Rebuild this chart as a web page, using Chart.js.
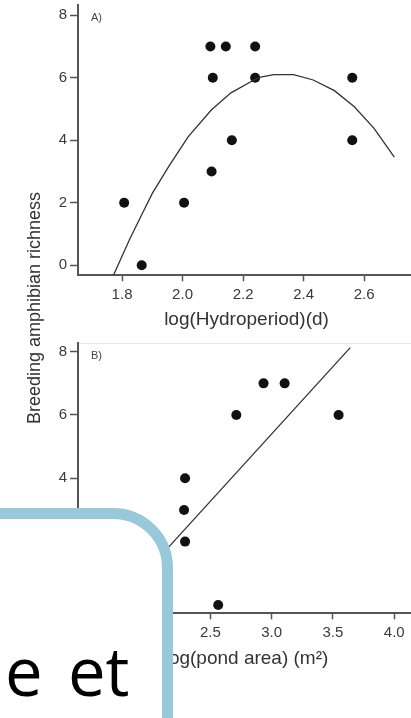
<!DOCTYPE html>
<html>
<head>
<meta charset="utf-8">
<script src="https://cdn.jsdelivr.net/npm/chart.js@4.4.0/dist/chart.umd.min.js"></script>
<style>
  html, body { margin: 0; padding: 0; background: #fff; width: 411px; height: 718px; overflow: hidden; }
  canvas { position: absolute; left: 0; }
  #panelA { top: 0; }
  #panelB { top: 336px; }
  #yTitle {
    position: absolute; left: -116px; top: 298px; width: 300px; height: 20px;
    line-height: 20px; text-align: center; transform: rotate(-90deg);
    font: 18px "Liberation Sans", Arial, sans-serif; color: #333;
  }
  #topLineB { position: absolute; left: 78px; top: 343px; width: 340px; height: 1px; background: #e6e6e6; }
  #box {
    position: absolute; left: -80px; top: 508px; width: 253px; height: 400px;
    box-sizing: border-box; border: 11px solid #98c9db; border-radius: 60px; background: #fff;
  }
  #boxText {
    position: absolute; left: -12px; top: 637px; white-space: nowrap;
    font: 67px "Open Sans", sans-serif; line-height: 67px; word-spacing: 8px; color: #000;
  }
</style>
</head>
<body>
<div id="topLineB"></div>
<canvas id="panelA" width="420" height="340"></canvas>
<canvas id="panelB" width="420" height="344"></canvas>
<div id="yTitle">Breeding amphibian richness</div>
<div id="box"></div>
<div id="boxText">le et</div>
<script>
// panel A: richness vs log(hydroperiod)
var hydroX = [1.807, 1.865, 2.005, 2.092, 2.143, 2.240, 2.100, 2.240, 2.096, 2.163, 2.561, 2.561];
var richA  = [2, 0, 2, 7, 7, 7, 6, 6, 3, 4, 6, 4];
// fitted curve
var curveX = [1.772, 1.824, 1.867, 1.900, 1.954, 2.019, 2.095, 2.160, 2.236, 2.258, 2.302, 2.367, 2.432, 2.502, 2.567, 2.633, 2.700];
var curveY = [-0.31, 0.81, 1.66, 2.30, 3.16, 4.12, 4.97, 5.52, 5.93, 6.02, 6.10, 6.10, 5.93, 5.59, 5.08, 4.38, 3.46];
var hydroTicks = [1.8, 2.0, 2.2, 2.4, 2.6];

// panel B: richness vs log(pond area)
var areaX = [2.294, 2.286, 2.294, 2.564, 2.712, 2.934, 3.106, 3.546];
var richB = [4, 3, 2, 0, 6, 7, 7, 6];
var fitBX = [1.67, 3.641];
var fitBY = [-0.26, 8.13];
var areaTicks = [1.5, 2.0, 2.5, 3.0, 3.5, 4.0];

var richTicks = [0, 2, 4, 6, 8];

var tickFont = { family: "'Liberation Sans', Arial, sans-serif", size: 15 };
var titleFont = { family: "'Liberation Sans', Arial, sans-serif", size: 19 };
var axisColor = '#555';
var textColor = '#3a3a3a';

function pts(xs, ys) {
  return xs.map(function(x, i) { return { x: x, y: ys[i] }; });
}

var panelTag = {
  id: 'panelTag',
  afterDraw: function(chart) {
    var ctx = chart.ctx, area = chart.chartArea;
    ctx.save();
    ctx.font = "11px 'Liberation Sans', Arial, sans-serif";
    ctx.fillStyle = '#444';
    ctx.textBaseline = 'middle';
    ctx.fillText(chart.options.plugins.panelTag.text, area.left + 13, area.top + 13);
    ctx.restore();
  }
};

function makeChart(id, o) {
  return new Chart(document.getElementById(id), {
    type: 'scatter',
    data: {
      datasets: [{
        data: pts(o.lineX, o.lineY),
        showLine: true,
        borderColor: '#333',
        borderWidth: 1.3,
        pointRadius: 0,
        fill: false
      }, {
        data: pts(o.dotX, o.dotY),
        backgroundColor: '#111',
        borderWidth: 0,
        pointRadius: 5
      }]
    },
    plugins: [panelTag],
    options: {
      responsive: false,
      animation: false,
      events: [],
      layout: { padding: { top: o.top, left: 0, right: 0, bottom: 0 } },
      plugins: {
        legend: { display: false },
        tooltip: { enabled: false },
        panelTag: { text: o.tag }
      },
      scales: {
        x: {
          type: 'linear',
          min: o.xMin, max: o.xMax,
          afterBuildTicks: function(s) { s.ticks = o.xTicks.map(function(v) { return { value: v }; }); },
          afterFit: function(s) { s.height = o.xHeight; s.paddingLeft = 0; s.paddingRight = 0; },
          ticks: {
            color: textColor, font: tickFont, padding: 5, maxRotation: 0, autoSkip: false,
            callback: function(v) { return v.toFixed(1); }
          },
          grid: { drawOnChartArea: false, drawTicks: true, tickLength: 6, tickColor: axisColor, tickWidth: 1.5 },
          border: { display: true, color: axisColor, width: 2 },
          title: { display: true, text: o.xTitle, color: '#333', font: titleFont, padding: { top: 0, bottom: o.titlePad } }
        },
        y: {
          type: 'linear',
          min: o.yMin, max: o.yMax,
          afterBuildTicks: function(s) { s.ticks = richTicks.map(function(v) { return { value: v }; }); },
          afterFit: function(s) { s.width = 78; s.paddingTop = 0; s.paddingBottom = 0; },
          ticks: { color: textColor, font: tickFont, padding: 3 },
          grid: { drawOnChartArea: false, drawTicks: true, tickLength: 8, tickColor: axisColor, tickWidth: 1.5 },
          border: { display: true, color: axisColor, width: 2 }
        }
      }
    }
  });
}

makeChart('panelA', {
  dotX: hydroX, dotY: richA, lineX: curveX, lineY: curveY,
  xMin: 1.6544, xMax: 2.7684, xTicks: hydroTicks,
  yMin: -0.32, yMax: 8.33,
  top: 5, xHeight: 64.7, titlePad: 8.6,
  xTitle: 'log(Hydroperiod)(d)', tag: 'A)'
});

makeChart('panelB', {
  dotX: areaX, dotY: richB, lineX: fitBX, lineY: fitBY,
  xMin: 1.421, xMax: 4.169, xTicks: areaTicks,
  yMin: -0.265, yMax: 8.265,
  top: 7.3, xHeight: 66.7, titlePad: 10.3,
  xTitle: 'log(pond area) (m²)', tag: 'B)'
});
</script>
</body>
</html>
